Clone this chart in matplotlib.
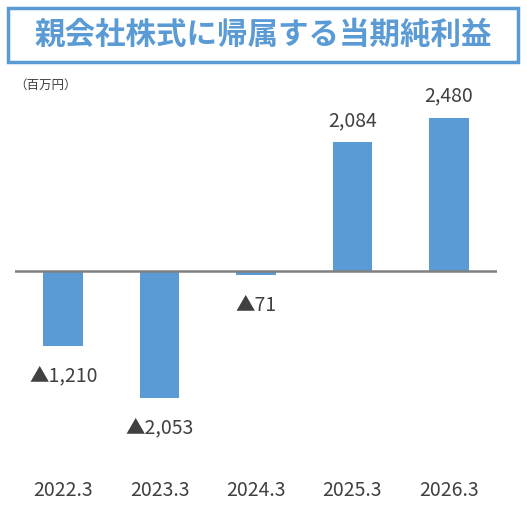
import matplotlib
matplotlib.use("Agg")
import matplotlib.pyplot as plt
from matplotlib.patches import Rectangle

plt.rcParams["font.family"] = ["Noto Sans CJK JP", "DejaVu Sans"]

years = ["2022.3", "2023.3", "2024.3", "2025.3", "2026.3"]
profit = [-1210, -2053, -71, 2084, 2480]
labels = ["▲1,210", "▲2,053", "▲71", "2,084", "2,480"]

BLUE = "#5B9BD5"
TEXT = "#404040"
W, H = 527, 513

fig = plt.figure(figsize=(W / 100, H / 100), dpi=100)

# title box
fig.patches.append(Rectangle((8 / W, 1 - 62 / H), 510 / W, 54 / H, transform=fig.transFigure,
                             fill=False, edgecolor=BLUE, linewidth=2.5))
fig.text(263 / W, 1 - 35 / H, "親会社株式に帰属する当期純利益", ha="center", va="center",
         color=BLUE, fontsize=22, fontweight="bold")
fig.text(14 / W, 1 - 85 / H, "（百万円）", ha="left", va="center", color=TEXT, fontsize=9)

ax = fig.add_axes([15 / W, 1 - 470 / H, 482 / W, 375 / H])
ax.bar(range(len(years)), profit, width=0.41, color=BLUE, zorder=2)
ax.axhline(0, color="#808080", linewidth=1.8, zorder=3)
ax.set_xlim(-0.5, 4.5)
ax.set_ylim(-3224, 2851)
ax.axis("off")

for i, (v, lab) in enumerate(zip(profit, labels)):
    off = 22 if v > 0 else -30
    ax.annotate(lab, (i, v), xytext=(0, off), textcoords="offset pixels",
                ha="center", va="center", color=TEXT, fontsize=14)
    ax.text(i, 1 - 491 / H, years[i], transform=ax.get_xaxis_transform() if False else
            matplotlib.transforms.blended_transform_factory(ax.transData, fig.transFigure),
            ha="center", va="center", color=TEXT, fontsize=14)

fig.savefig("out.png", dpi=100)
